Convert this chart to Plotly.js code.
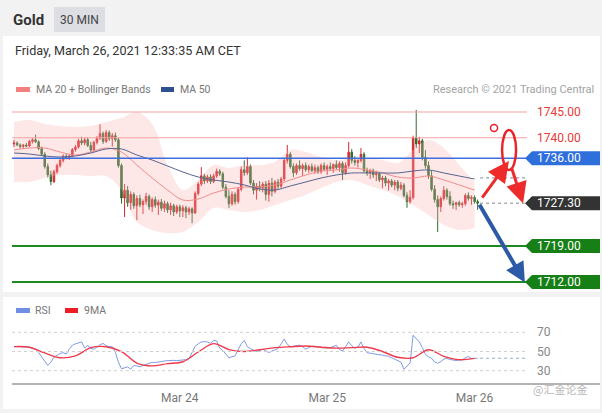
<!DOCTYPE html>
<html><head><meta charset="utf-8">
<script src="https://cdn.plot.ly/plotly-3.0.1.min.js"></script>
<style>html,body{margin:0;padding:0;background:#f2f2f2;}#chart{width:602px;height:413px;}</style>
</head><body><div id="chart"></div>
<script>
// ---- 30-min Gold candles, Mar 22 21:00 CET -> Mar 26 00:30 CET ----
const startTime = Date.UTC(2021, 2, 22, 21, 0);
const opens = [1738.8,1739.0,1738.6,1738.3,1738.6,1738.4,1739.3,1739.6,1739.2,1737.9,
1736.8,1734.4,1732.8,1731.5,1733.4,1734.6,1735.6,1736.4,1736.1,1736.5,
1737.7,1738.2,1739.4,1739.0,1739.6,1738.5,1737.6,1739.1,1739.9,1740.8,
1739.3,1741.0,1739.8,1740.4,1739.6,1734.6,1728.3,1729.8,1727.4,1729.0,
1726.8,1728.2,1727.0,1727.6,1728.6,1726.6,1728.0,1726.9,1727.5,1726.3,
1727.2,1726.0,1726.8,1725.6,1726.6,1725.8,1726.4,1725.6,1726.2,1725.4,
1729.2,1731.0,1732.6,1731.6,1732.4,1731.5,1732.6,1733.5,1733.0,1730.4,
1728.6,1727.2,1729.0,1727.6,1730.0,1733.8,1733.2,1734.4,1731.2,1729.8,
1730.6,1730.2,1731.0,1729.0,1731.2,1729.6,1731.4,1730.6,1732.0,1735.6,
1736.8,1734.4,1733.2,1734.6,1734.0,1734.6,1733.8,1734.4,1733.6,1734.2,
1733.4,1734.6,1733.9,1734.4,1734.0,1734.8,1734.2,1735.0,1733.2,1734.6,
1737.2,1735.6,1735.2,1735.6,1736.8,1733.6,1733.2,1733.6,1732.8,1733.0,
1731.8,1732.2,1731.2,1731.6,1730.8,1731.4,1730.2,1730.8,1728.8,1727.6,
1728.4,1740.0,1738.8,1739.4,1736.2,1734.6,1732.6,1730.0,1728.0,1726.6,
1728.2,1729.8,1728.6,1727.2,1727.0,1727.4,1727.0,1727.2,1728.8,1728.2,
1728.4,1727.6];
const highs = [1739.6,1739.3,1738.9,1738.8,1739.0,1739.6,1739.9,1740.6,1739.5,1738.3,
1737.2,1735.0,1733.6,1733.8,1735.0,1736.0,1736.8,1736.9,1736.8,1738.0,
1738.6,1739.8,1740.2,1740.0,1740.1,1739.2,1739.4,1740.3,1742.6,1741.2,
1741.5,1741.4,1740.9,1741.0,1740.0,1735.0,1731.0,1730.6,1729.6,1729.4,
1728.8,1728.9,1728.0,1729.3,1729.0,1728.4,1728.6,1728.0,1728.1,1727.8,
1727.6,1727.4,1727.2,1727.0,1727.0,1726.9,1726.8,1726.6,1726.5,1729.6,
1731.4,1734.3,1733.0,1732.8,1732.9,1733.0,1734.0,1733.9,1733.4,1731.0,
1729.8,1729.6,1729.4,1730.4,1734.4,1735.6,1736.2,1734.8,1731.8,1731.2,
1731.6,1731.4,1731.6,1731.8,1732.2,1731.8,1732.0,1732.4,1736.0,1738.6,
1737.2,1735.0,1735.0,1735.6,1735.0,1735.2,1734.8,1735.0,1734.8,1734.6,
1735.0,1735.2,1734.8,1735.2,1735.0,1735.6,1735.4,1735.4,1735.2,1739.2,
1737.8,1736.4,1735.8,1738.0,1737.2,1734.2,1734.0,1734.0,1733.6,1733.4,
1732.6,1732.6,1732.0,1732.0,1731.8,1731.8,1731.4,1731.2,1729.4,1729.8,
1740.4,1745.4,1740.2,1739.8,1737.6,1735.4,1733.6,1730.8,1728.8,1728.6,
1730.6,1730.2,1729.6,1727.8,1727.6,1727.8,1727.6,1729.2,1729.4,1728.8,
1728.8,1728.0];
const lows = [1738.2,1738.4,1737.9,1737.8,1738.1,1738.2,1738.9,1739.0,1737.6,1736.5,
1734.0,1732.3,1730.8,1731.2,1733.0,1734.2,1735.2,1735.8,1735.7,1736.2,
1737.3,1737.9,1738.6,1738.5,1738.2,1737.2,1737.3,1738.7,1739.6,1738.8,
1739.0,1739.4,1738.3,1739.2,1734.2,1727.2,1724.6,1726.6,1726.0,1726.2,
1724.0,1726.5,1725.2,1727.0,1726.0,1725.6,1726.4,1725.0,1725.8,1725.6,
1725.4,1725.0,1724.8,1725.2,1724.6,1724.6,1724.4,1725.0,1723.4,1725.2,
1728.8,1730.6,1731.0,1731.2,1731.0,1731.2,1732.2,1732.6,1730.0,1728.2,
1726.4,1726.8,1727.0,1727.2,1729.6,1732.6,1732.8,1730.8,1729.0,1728.0,
1729.6,1729.4,1727.8,1727.6,1728.6,1729.2,1730.0,1730.2,1731.6,1735.0,
1734.0,1732.4,1732.8,1733.6,1732.6,1733.4,1733.2,1733.4,1733.0,1733.0,
1733.0,1733.6,1732.8,1733.6,1733.2,1733.8,1733.4,1731.8,1732.8,1734.2,
1735.0,1734.6,1734.2,1735.2,1733.2,1732.6,1732.0,1732.2,1731.6,1731.4,
1730.2,1730.6,1729.8,1730.4,1729.8,1729.6,1729.8,1728.4,1726.4,1727.2,
1728.0,1738.0,1737.0,1735.6,1734.0,1732.0,1729.6,1727.4,1721.7,1725.6,
1727.8,1728.0,1726.8,1726.2,1726.0,1726.6,1726.4,1726.8,1727.8,1727.0,
1727.2,1726.0];
const closes = [1739.0,1738.6,1738.3,1738.6,1738.4,1739.3,1739.6,1739.2,1737.9,1736.8,
1734.4,1732.8,1731.5,1733.4,1734.6,1735.6,1736.4,1736.1,1736.5,1737.7,
1738.2,1739.4,1739.0,1739.6,1738.5,1737.6,1739.1,1739.9,1740.8,1739.3,
1741.0,1739.8,1740.4,1739.6,1734.6,1728.3,1729.8,1727.4,1729.0,1726.8,
1728.2,1727.0,1727.6,1728.6,1726.6,1728.0,1726.9,1727.5,1726.3,1727.2,
1726.0,1726.8,1725.6,1726.6,1725.8,1726.4,1725.6,1726.2,1725.4,1729.2,
1731.0,1732.6,1731.6,1732.4,1731.5,1732.6,1733.5,1733.0,1730.4,1728.6,
1727.2,1729.0,1727.6,1730.0,1733.8,1733.2,1734.4,1731.2,1729.8,1730.6,
1730.2,1731.0,1729.0,1731.2,1729.6,1731.4,1730.6,1732.0,1735.6,1736.8,
1734.4,1733.2,1734.6,1734.0,1734.6,1733.8,1734.4,1733.6,1734.2,1733.4,
1734.6,1733.9,1734.4,1734.0,1734.8,1734.2,1735.0,1733.2,1734.6,1737.2,
1735.6,1735.2,1735.6,1736.8,1733.6,1733.2,1733.6,1732.8,1733.0,1731.8,
1732.2,1731.2,1731.6,1730.8,1731.4,1730.2,1730.8,1728.8,1727.6,1728.4,
1740.0,1738.8,1739.4,1736.2,1734.6,1732.6,1730.0,1728.0,1726.6,1728.2,
1729.8,1728.6,1727.2,1727.0,1727.4,1727.0,1727.2,1728.8,1728.2,1728.4,
1727.6,1727.3];

// ---- RSI per bar ----
const rsi = [55,55.2,55,54.8,54.6,54.5,53.5,52.5,49,45,
40,35.5,39,44,46,48,48.8,47.5,52.5,56.5,
58,59.2,60,53.5,56.5,53,52.5,54.5,57,58.4,
56,55,55,49,39,32,33,34,31.5,35.5,
35,34,35.5,36.5,37.5,38.7,38.5,38.7,39.5,40.2,
40.6,40.4,40.8,40.5,40.8,40.6,41.5,42.5,49,55.5,
58,60,60.3,60,58.6,61.5,61,53.5,51,47,
43.5,44.5,45.5,52,58,61.5,55,53,51.5,50,
51,52.3,50.5,49,50.5,52,53,58,63,57.5,
55,55.5,56,56.7,55,52.5,54,55.5,55.5,55,
54.5,54,53.5,54,55.5,56.5,52,50.5,55,60,
56,53.5,54.5,60,53,48.8,48.2,47.8,47.5,47,
46.2,45.5,45,43.5,42,40.6,39,31.5,35,38,
67,64,60,54,47,44.5,43,39,37.8,39.6,
42,43,41.6,41.2,40.6,41,41.4,43.5,44.8,42.6,
42.8,43];

// ---- indicators read every 5 bars (bar 0,5,...,150) ----
const bbUpper = [1743.06,1743.45,1742.67,1742.28,1742.09,1742.28,1743.06,1743.83,1745.0,1742.67,
1734.71,1729.85,1731.80,1734.71,1734.13,1734.71,1734.71,1735.29,1737.62,1737.23,
1736.26,1735.68,1736.07,1736.07,1735.68,1735.10,1737.62,1739.56,1738.01,1734.71,1731.41];
const bbLower = [1731.41,1731.41,1732.18,1732.77,1732.77,1732.57,1732.57,1729.85,1723.64,1722.09,
1721.50,1721.70,1723.64,1726.36,1725.97,1725.58,1725.97,1726.94,1727.91,1728.88,
1730.24,1731.41,1731.80,1730.83,1729.85,1728.69,1726.94,1725.0,1723.06,1722.09,1722.48];
const ma20 = [1737.62,1738.01,1738.01,1737.23,1736.65,1737.23,1738.01,1737.23,1734.71,1732.18,
1729.85,1727.91,1728.11,1729.27,1730.05,1730.44,1730.44,1730.83,1731.80,1732.77,
1733.54,1733.74,1734.13,1733.74,1733.16,1732.38,1732.18,1732.57,1731.80,1730.83,1729.85];
const ma50 = [1737.04,1736.84,1736.46,1736.26,1736.46,1737.04,1737.82,1737.82,1736.65,1735.68,
1734.51,1733.35,1732.38,1731.80,1731.41,1730.83,1730.05,1729.85,1730.63,1731.41,
1732.18,1732.77,1733.16,1733.16,1733.16,1733.16,1733.54,1733.74,1733.16,1732.57,1731.99];
const rsiMA9 = [55.1,54.5,48.5,43.5,45.5,54,55,50,38,35,
37.4,39.3,49.5,58.2,52,50,51.8,54,55,55.7,
54.5,53.5,54,54.5,50,44,43.5,51.8,45,41.5,42.8];

// ---- levels and labels ----
const resistLevels = [1745.00, 1740.00];
const pivotLevel = 1736.00;
const supportLevels = [1719.00, 1712.00];
const lastPrice = 1727.30;
const ma50Last = 1732.2;
const rsiLast = 43;
const rsiGrid = [70, 50, 30];
const dayTicks = ['2021-03-24', '2021-03-25', '2021-03-26'];
const dayLabels = ['Mar 24', 'Mar 25', 'Mar 26'];

function fmt(ms){ return new Date(ms).toISOString().slice(0,16).replace('T',' '); }
const times = closes.map((_, i) => fmt(startTime + i * 30 * 60000));
const sTimes = ma20.map((_, k) => times[k * 5]);

const W = 602, H = 413;
const px = v => v / W, py = v => 1 - v / H;
const FONT = 'Roboto, Arial, sans-serif';
const lineEnd = '2021-03-26 08:33';
const xStart = '2021-03-22 20:40';
const tailT = '2021-03-26 00:54';

const traces = [
  {x: sTimes, y: bbUpper, type: 'scatter', mode: 'lines', line: {width: 0, shape: 'spline', color: 'rgba(0,0,0,0)'}, hoverinfo: 'skip', xaxis: 'x', yaxis: 'y'},
  {x: sTimes, y: bbLower, type: 'scatter', mode: 'lines', fill: 'tonexty', fillcolor: 'rgba(250,175,175,0.30)', line: {width: 0, shape: 'spline', color: 'rgba(0,0,0,0)'}, hoverinfo: 'skip', xaxis: 'x', yaxis: 'y'},
  {x: sTimes, y: ma20, type: 'scatter', mode: 'lines', line: {width: 1, shape: 'spline', color: '#f28c8c'}, hoverinfo: 'skip', xaxis: 'x', yaxis: 'y'},
  {x: sTimes, y: ma50, type: 'scatter', mode: 'lines', line: {width: 1, shape: 'spline', color: '#56658f'}, hoverinfo: 'skip', xaxis: 'x', yaxis: 'y'},
  {x: times, open: opens, high: highs, low: lows, close: closes, type: 'candlestick', xaxis: 'x', yaxis: 'y',
   increasing: {line: {color: '#d8292f', width: 1}, fillcolor: '#d8292f'},
   decreasing: {line: {color: '#2f6d2f', width: 1}, fillcolor: '#2f6d2f'},
   whiskerwidth: 0, hoverinfo: 'skip'},
  {x: times, y: rsi, type: 'scatter', mode: 'lines', line: {width: 1, color: '#7f9be8'}, hoverinfo: 'skip', xaxis: 'x', yaxis: 'y2'},
  {x: sTimes, y: rsiMA9, type: 'scatter', mode: 'lines', line: {width: 1.4, shape: 'spline', color: '#ef3a4c'}, hoverinfo: 'skip', xaxis: 'x', yaxis: 'y2'}
];

const shapes = [
  // panels
  {type: 'rect', xref: 'paper', yref: 'paper', x0: px(3), x1: px(600), y0: py(36), y1: py(292), fillcolor: '#ffffff', line: {width: 0}, layer: 'below'},
  {type: 'rect', xref: 'paper', yref: 'paper', x0: px(3), x1: px(600), y0: py(297), y1: py(409), fillcolor: '#ffffff', line: {width: 0}, layer: 'below'},
  {type: 'rect', xref: 'paper', yref: 'paper', x0: px(54), x1: px(105), y0: py(7), y1: py(32), fillcolor: '#dcdee3', line: {width: 0}, layer: 'below'},
  // legend swatches
  {type: 'rect', xref: 'paper', yref: 'paper', x0: px(16), x1: px(30), y0: py(87), y1: py(92), fillcolor: '#f47f7f', line: {width: 0}},
  {type: 'rect', xref: 'paper', yref: 'paper', x0: px(161), x1: px(174), y0: py(87), y1: py(92), fillcolor: '#2f4f8f', line: {width: 0}},
  {type: 'rect', xref: 'paper', yref: 'paper', x0: px(16), x1: px(30), y0: py(308), y1: py(313), fillcolor: '#6f8fe6', line: {width: 0}},
  {type: 'rect', xref: 'paper', yref: 'paper', x0: px(65), x1: px(78), y0: py(308), y1: py(313), fillcolor: '#ee1c24', line: {width: 0}},
];
resistLevels.forEach(v => shapes.push({type: 'line', xref: 'x', yref: 'y', x0: xStart, x1: lineEnd, y0: v, y1: v, line: {color: '#f3a3a0', width: 1}}));
shapes.push({type: 'line', xref: 'x', yref: 'y', x0: xStart, x1: lineEnd, y0: pivotLevel, y1: pivotLevel, line: {color: '#3d6fe0', width: 1.5}});
supportLevels.forEach(v => shapes.push({type: 'line', xref: 'x', yref: 'y', x0: xStart, x1: lineEnd, y0: v, y1: v, line: {color: '#1f8a1f', width: 2}}));
shapes.push({type: 'line', xref: 'x', yref: 'y', x0: tailT, x1: '2021-03-26 08:10', y0: lastPrice, y1: lastPrice, line: {color: '#888', width: 1, dash: 'dot'}});
shapes.push({type: 'line', xref: 'x', yref: 'y', x0: tailT, x1: lineEnd, y0: ma50Last, y1: ma50Last, line: {color: '#7b87a8', width: 1, dash: 'dot'}});
rsiGrid.forEach(v => shapes.push({type: 'line', xref: 'x', yref: 'y2', x0: xStart, x1: lineEnd, y0: v, y1: v, line: {color: '#cfcfcf', width: 1, dash: 'dot'}}));
shapes.push({type: 'line', xref: 'x', yref: 'y2', x0: tailT, x1: lineEnd, y0: rsiLast, y1: rsiLast, line: {color: '#9aa8d0', width: 1, dash: 'dot'}});
// value boxes (pointed left end)
const hh = 1.36;
function box(v, color){
  return {type: 'path', xref: 'paper', yref: 'y', fillcolor: color, line: {width: 0},
    path: `M ${px(525)} ${v} L ${px(532)} ${v + hh} L ${px(600)} ${v + hh} L ${px(600)} ${v - hh} L ${px(532)} ${v - hh} Z`};
}
shapes.push(box(pivotLevel, '#2f6fdc'));
shapes.push(box(lastPrice, '#333333'));
supportLevels.forEach(v => shapes.push(box(v, '#167f16')));
// red ellipse and small circle
shapes.push({type: 'circle', xref: 'x', yref: 'y', x0: '2021-03-26 04:29', x1: '2021-03-26 06:46', y0: 1733.74, y1: 1741.5, line: {color: '#e8232a', width: 2.5}});
shapes.push({type: 'circle', xref: 'x', yref: 'y', x0: '2021-03-26 02:36', x1: '2021-03-26 03:45', y0: 1741.21, y1: 1742.57, line: {color: '#e8232a', width: 1.5}});

const ann = [];
const T = (text, x, y, opts) => ann.push(Object.assign({text, x: px(x), y: py(y), xref: 'paper', yref: 'paper', showarrow: false, xanchor: 'left', yanchor: 'middle', font: {family: FONT, size: 10.5, color: '#777'}}, opts || {}));
T('<b>Gold</b>', 11, 20, {font: {family: FONT, size: 15, color: '#333'}});
T('30 MIN', 79.5, 20, {xanchor: 'center', font: {family: FONT, size: 12, color: '#444'}});
T('Friday, March 26, 2021 12:33:35 AM CET', 13, 50, {font: {family: FONT, size: 12.6, color: '#333'}});
T('MA 20 + Bollinger Bands', 34, 89);
T('MA 50', 178, 89);
T('Research © 2021 Trading Central', 596, 89, {xanchor: 'right', font: {family: FONT, size: 11, color: '#a3a3a3'}});
T('RSI', 33, 310);
T('9MA', 82, 310);
T('@汇金论金', 560, 389, {xanchor: 'center', font: {family: '"Noto Sans CJK SC", sans-serif', size: 11, color: '#b8b8b8'}});
// level labels
const L = (v, color) => ann.push({text: v.toFixed(2), x: px(535), y: v, xref: 'paper', yref: 'y', xanchor: 'left', yanchor: 'middle', showarrow: false, font: {family: FONT, size: 12, color}});
resistLevels.forEach(v => L(v, '#e53935'));
L(pivotLevel, '#ffffff');
L(lastPrice, '#ffffff');
supportLevels.forEach(v => L(v, '#ffffff'));
rsiGrid.forEach(v => ann.push({text: String(v), x: px(535), y: v, xref: 'paper', yref: 'y2', xanchor: 'left', yanchor: 'middle', showarrow: false, font: {family: FONT, size: 12, color: '#888'}}));
// arrows
const A = (x, y, ax, ay, color, w, s) => ann.push({text: '', x, y, ax, ay, xref: 'x', yref: 'y', axref: 'x', ayref: 'y', showarrow: true, arrowhead: 2, arrowsize: s, arrowwidth: w, arrowcolor: color, standoff: 0, startstandoff: 0});
A('2021-03-26 08:12', 1711.9, '2021-03-26 00:40', 1727.3, '#2c5aa6', 4, 1);
A('2021-03-26 05:36', 1735.5, '2021-03-26 01:04', 1728.1, '#ee2b2b', 3, 1.4);
A('2021-03-26 07:54', 1727.3, '2021-03-26 05:56', 1734.5, '#ee2b2b', 3, 1.4);

const layout = {
  width: W, height: H, margin: {l: 0, r: 0, t: 0, b: 0},
  paper_bgcolor: '#f2f2f2', plot_bgcolor: 'rgba(0,0,0,0)', showlegend: false,
  font: {family: FONT},
  xaxis: {domain: [px(12), px(600)], range: [xStart, '2021-03-26 20:26'], type: 'date', anchor: 'y2',
    showgrid: false, zeroline: false, showline: true, linecolor: '#b3b3b3', linewidth: 2,
    tickvals: dayTicks, ticktext: dayLabels, ticks: '', ticklabelstandoff: 3,
    tickfont: {family: FONT, size: 12, color: '#777'}, rangeslider: {visible: false}, fixedrange: true},
  yaxis: {domain: [py(290), py(100)], range: [1710.44, 1747.33], visible: false, showgrid: false, fixedrange: true},
  yaxis2: {domain: [py(383), py(318)], range: [17.2, 84.9], visible: false, showgrid: false, fixedrange: true},
  shapes, annotations: ann
};
Plotly.newPlot('chart', traces, layout, {displayModeBar: false, staticPlot: true});
</script></body></html>
